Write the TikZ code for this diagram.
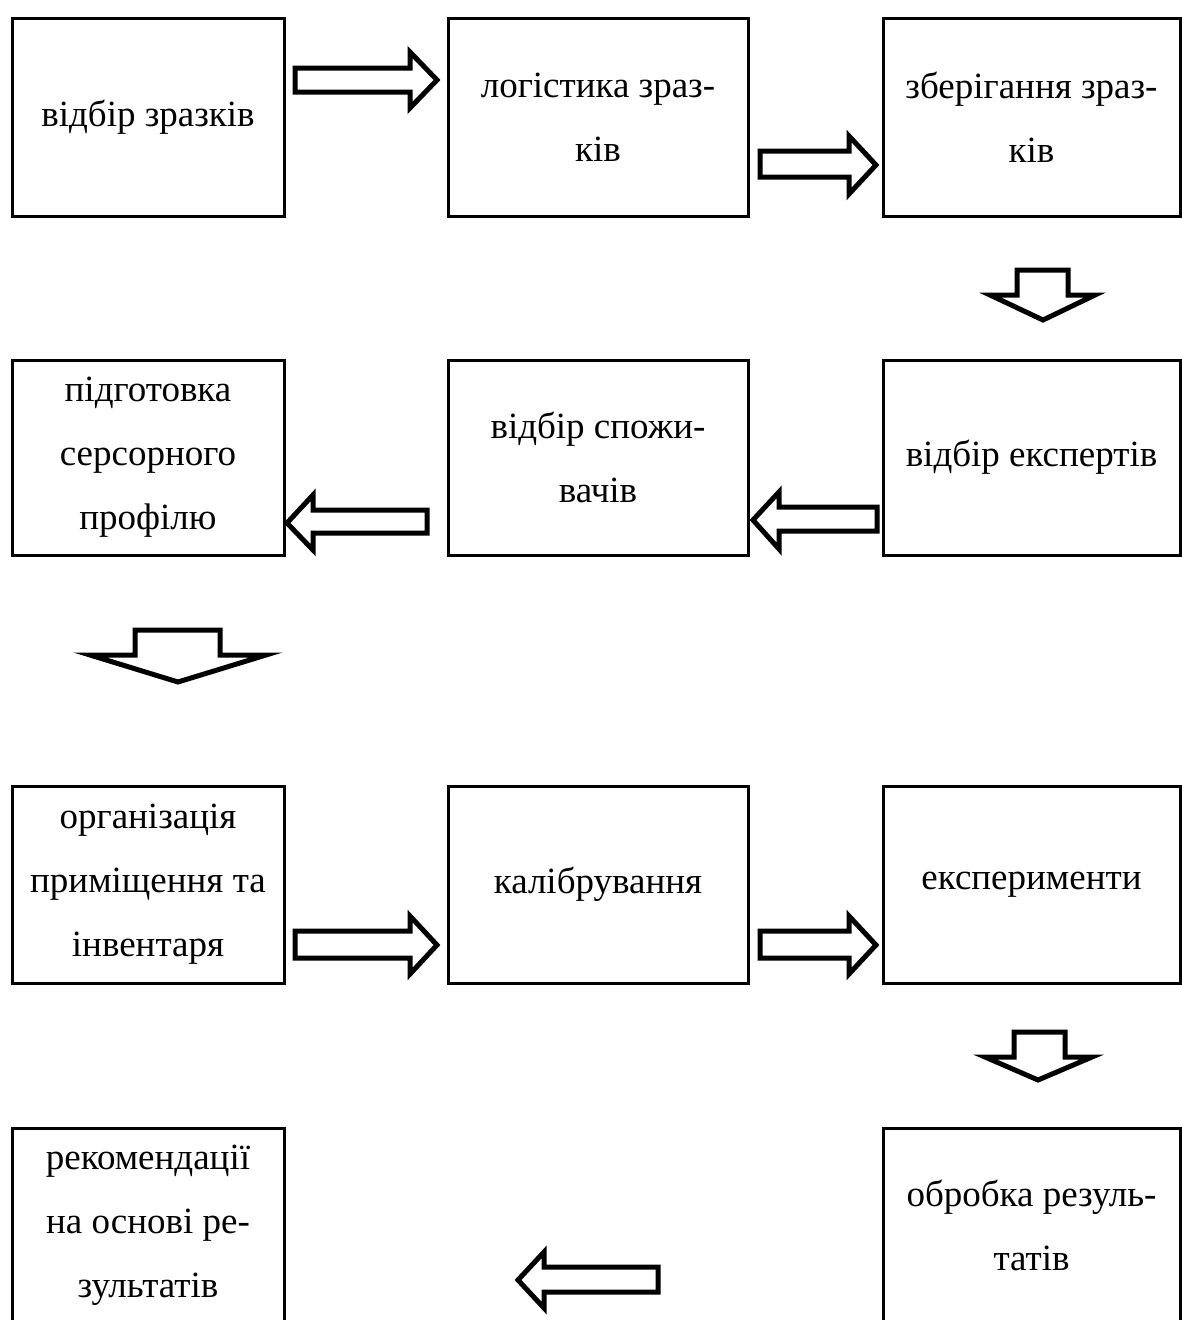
\documentclass[tikz,border=0pt]{standalone}
\usepackage{fontspec}
\setmainfont{Liberation Serif}
\begin{document}
\begin{tikzpicture}[x=1pt,y=-1pt,
  box/.style={draw, line width=3pt, align=center, inner sep=0pt,
    font=\fontsize{37}{64}\selectfont},
  c1/.style={minimum width=272pt},
  c2/.style={minimum width=300pt},
  c3/.style={minimum width=297pt},
  blk/.style={draw, line width=5pt, line join=miter, fill=white}]
\useasboundingbox (0,0) rectangle (1182,1320);
% row 1
\node[box,c1,minimum height=198pt] (b11) at (148,117) {відбір зразків};
\node[box,c2,minimum height=198pt] (b12) at (598,117) {логістика зраз-\\ків};
\node[box,c3,minimum height=198pt] (b13) at (1031.5,117) {зберігання зраз-\\ків};
% row 2
\node[box,c1,minimum height=195pt] (b21) at (148,457.5) {підготовка\\серсорного\\профілю};
\node[box,c2,minimum height=195pt] (b22) at (598,457.5) {відбір спожи-\\вачів};
\node[box,c3,minimum height=195pt] (b23) at (1031.5,457.5) {відбір експертів};
% row 3
\node[box,c1,minimum height=197pt] (b31) at (148,884.5) {організація\\приміщення та\\інвентаря};
\node[box,c2,minimum height=197pt] (b32) at (598,884.5) {калібрування};
\node[box,c3,minimum height=197pt] (b33) at (1031.5,884.5) {експерименти};
% row 4
\node[box,c1,minimum height=194pt] (b41) at (148,1225) {рекомендації\\на основі ре-\\зультатів};
\node[box,c3,minimum height=194pt] (b43) at (1031.5,1225) {обробка резуль-\\татів};
% block arrows, row 1
\draw[blk] (295,68) -- (410,68) -- (410,52) -- (437,80) -- (410,108) -- (410,92) -- (295,92) -- cycle;
\draw[blk] (760,151) -- (849,151) -- (849,136) -- (876,165) -- (849,194) -- (849,177) -- (760,177) -- cycle;
% down arrow 1
\draw[blk] (1017,270) -- (1068,270) -- (1068,295) -- (1095,295) -- (1043,320) -- (990,295) -- (1017,295) -- cycle;
% row 2 left arrows
\draw[blk] (877,507) -- (779,507) -- (779,492) -- (753,520) -- (779,549) -- (779,531) -- (877,531) -- cycle;
\draw[blk] (427,510) -- (313,510) -- (313,495) -- (287,523) -- (313,550) -- (313,533) -- (427,533) -- cycle;
% down arrow 2
\draw[blk] (135,630) -- (220,630) -- (220,655) -- (266,655) -- (178,682) -- (90,655) -- (135,655) -- cycle;
% row 3 right arrows
\draw[blk] (295,931) -- (410,931) -- (410,916) -- (437,945) -- (410,974) -- (410,958) -- (295,958) -- cycle;
\draw[blk] (760,931) -- (849,931) -- (849,916) -- (876,945) -- (849,974) -- (849,958) -- (760,958) -- cycle;
% down arrow 3
\draw[blk] (1014,1032) -- (1065,1032) -- (1065,1057) -- (1092,1057) -- (1038,1080) -- (985,1057) -- (1014,1057) -- cycle;
% row 4 left arrow
\draw[blk] (658,1267) -- (544,1267) -- (544,1252) -- (518,1280) -- (544,1308) -- (544,1292) -- (658,1292) -- cycle;
\end{tikzpicture}
\end{document}
